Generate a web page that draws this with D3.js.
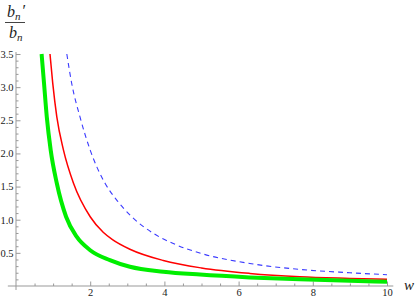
<!DOCTYPE html>
<html>
<head>
<meta charset="utf-8">
<script src="https://cdn.jsdelivr.net/npm/d3@7"></script>
<style>
  body { margin: 0; background: #fff; }
  svg { display: block; }
  .tick text { font-family: "Liberation Serif", "DejaVu Serif", serif; font-size: 10.5px; fill: #222; }
  .tick line { stroke: #999; }
</style>
</head>
<body>
<div id="chart"></div>
<script>
// values
const wGreen = [0.69, 0.755, 0.83, 0.935, 1.10, 1.35, 1.64, 2.0, 2.53, 3.07, 3.97, 4.96, 6.3, 7.65, 9.0, 10];
const vGreen = [3.5, 3.06, 2.55, 2.05, 1.55, 1.045, 0.74, 0.54, 0.39, 0.29, 0.216, 0.172, 0.13, 0.10, 0.078, 0.065];

const wRed = [0.916, 0.99, 1.10, 1.28, 1.55, 2.0, 2.35, 2.6, 3.07, 3.97, 5.0, 6.3, 7.65, 9.0, 10];
const vRed = [3.5, 3.06, 2.55, 2.05, 1.55, 1.045, 0.81, 0.70, 0.555, 0.385, 0.272, 0.19, 0.14, 0.115, 0.10];

const wBlue = [1.37, 1.50, 1.725, 2.0, 2.40, 2.71, 3.12, 3.70, 4.24, 5.0, 6.3, 7.65, 9.0, 10];
const vBlue = [3.5, 3.06, 2.55, 2.05, 1.55, 1.30, 1.045, 0.795, 0.64, 0.49, 0.34, 0.25, 0.20, 0.17];

const xTicks = [2, 4, 6, 8, 10];
const yTicks = [0.5, 1.0, 1.5, 2.0, 2.5, 3.0, 3.5];

const WIDTH = 415;
const HEIGHT = 300;

const svg = d3.select("#chart").append("svg")
  .attr("width", WIDTH)
  .attr("height", HEIGHT);

const x = d3.scaleLinear().domain([0, 10]).range([16, 387]);
const y = d3.scaleLinear().domain([0, 3.5]).range([286, 54]);

// axis lines (a little padding past the plot range, like Mathematica)
svg.append("line")
  .attr("x1", x(-0.22)).attr("x2", x(10.17))
  .attr("y1", y(0)).attr("y2", y(0))
  .attr("stroke", "#999");
svg.append("line")
  .attr("x1", x(0)).attr("x2", x(0))
  .attr("y1", y(-0.06)).attr("y2", y(3.53))
  .attr("stroke", "#999");

// minor ticks
svg.append("g")
  .attr("transform", `translate(0,${y(0)})`)
  .call(d3.axisBottom(x).tickValues(d3.range(0.5, 10.01, 0.5).filter(d => d % 2 !== 0)).tickSize(-2.5).tickFormat(""))
  .call(g => g.select(".domain").remove());
svg.append("g")
  .attr("transform", `translate(${x(0)},0)`)
  .call(d3.axisLeft(y).tickValues(d3.range(1, 36).filter(d => d % 5 !== 0).map(d => d / 10)).tickSize(-2.5).tickFormat(""))
  .call(g => g.select(".domain").remove());

// major ticks + labels
svg.append("g")
  .attr("transform", `translate(0,${y(0)})`)
  .call(d3.axisBottom(x).tickValues(xTicks).tickSize(-4.5).tickPadding(3).tickFormat(d3.format("d")))
  .call(g => g.select(".domain").remove());
svg.append("g")
  .attr("transform", `translate(${x(0)},0)`)
  .call(d3.axisLeft(y).tickValues(yTicks).tickSize(-4.5).tickPadding(2.5).tickFormat(d3.format(".1f")))
  .call(g => g.select(".domain").remove());

// curves
const line = d3.line()
  .x(d => x(d[0]))
  .y(d => y(d[1]))
  .curve(d3.curveMonotoneX);

const series = [
  { w: wBlue, v: vBlue, color: "#3a3aff", width: 1.1, dash: "5,4" },
  { w: wRed, v: vRed, color: "#ff0000", width: 1.5, dash: null },
  { w: wGreen, v: vGreen, color: "#00ee00", width: 4, dash: null }
];

for (const s of series) {
  svg.append("path")
    .datum(d3.zip(s.w, s.v))
    .attr("fill", "none")
    .attr("stroke", s.color)
    .attr("stroke-width", s.width)
    .attr("stroke-dasharray", s.dash)
    .attr("d", line);
}

// axis titles
const serif = "'Liberation Serif', 'DejaVu Serif', serif";
const num = svg.append("text")
  .attr("x", 7).attr("y", 17)
  .attr("font-family", serif).attr("font-style", "italic")
  .attr("font-size", 16).attr("fill", "#222");
num.append("tspan").text("b");
num.append("tspan").attr("font-size", 11).attr("dy", 3).text("n");
num.append("tspan").attr("dy", -4).attr("dx", 1).text("′");

svg.append("line")
  .attr("x1", 5).attr("x2", 25)
  .attr("y1", 22.5).attr("y2", 22.5)
  .attr("stroke", "#444").attr("stroke-width", 1);

const den = svg.append("text")
  .attr("x", 9).attr("y", 38)
  .attr("font-family", serif).attr("font-style", "italic")
  .attr("font-size", 16).attr("fill", "#222");
den.append("tspan").text("b");
den.append("tspan").attr("font-size", 11).attr("dy", 3).text("n");

svg.append("text")
  .attr("x", 404).attr("y", 290)
  .attr("font-family", serif).attr("font-style", "italic")
  .attr("font-size", 15).attr("fill", "#222")
  .text("w");
</script>
</body>
</html>
